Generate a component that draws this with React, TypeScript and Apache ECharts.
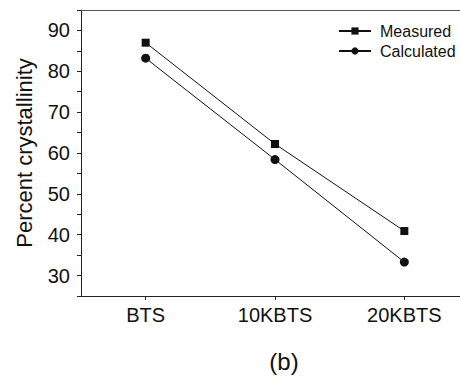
import React, { useEffect, useRef } from "react";
import * as echarts from "echarts";

const categories = ["BTS", "10KBTS", "20KBTS"];
const measured = [87.0, 62.2, 40.9];
const calculated = [83.2, 58.4, 33.3];
const seriesNames = ["Measured", "Calculated"];
const yTitle = "Percent crystallinity";
const caption = "(b)";

const FONT = "'Liberation Sans', Arial, sans-serif";

export default function App() {
  const ref = useRef<HTMLDivElement>(null);
  useEffect(() => {
    if (!ref.current) return;
    const chart = echarts.init(ref.current, undefined, { renderer: "svg" });
    chart.setOption({
      animation: false,
      backgroundColor: "#ffffff",
      textStyle: { fontFamily: FONT },
      grid: { left: 81, right: 1, top: 10, bottom: 84, containLabel: false },
      legend: {
        left: 333,
        top: 18,
        orient: "vertical",
        itemWidth: 32,
        itemHeight: 9,
        itemGap: 4,
        textStyle: { fontSize: 16, color: "#111", fontFamily: FONT, padding: [0, 0, 0, 4] },
        data: seriesNames,
      },
      xAxis: [
        {
          type: "category",
          data: categories,
          boundaryGap: true,
          axisLine: { show: true, lineStyle: { color: "#222", width: 1 } },
          axisTick: { show: true, alignWithLabel: true, length: 4, lineStyle: { color: "#222" } },
          axisLabel: { fontSize: 20, color: "#111", margin: 9, fontFamily: FONT },
          splitLine: { show: false },
        },
        {
          type: "category",
          data: categories,
          position: "top",
          axisLine: { show: true, lineStyle: { color: "#555", width: 1 } },
          axisTick: { show: false },
          axisLabel: { show: false },
          splitLine: { show: false },
        },
      ],
      yAxis: {
        type: "value",
        min: 25,
        max: 95,
        interval: 5,
        name: yTitle,
        nameLocation: "middle",
        nameGap: 46,
        nameTextStyle: { fontSize: 22, color: "#111", fontFamily: FONT },
        axisLine: { show: true, lineStyle: { color: "#222", width: 1 } },
        axisTick: { show: true, length: 4, lineStyle: { color: "#222" } },
        axisLabel: {
          fontSize: 20,
          color: "#111",
          margin: 11,
          fontFamily: FONT,
          formatter: (v: number) => (v % 10 === 0 ? String(v) : ""),
        },
        splitLine: { show: false },
      },
      graphic: [
        {
          type: "text",
          x: 284,
          y: 361,
          style: {
            text: caption,
            fontSize: 24,
            fill: "#111",
            fontFamily: FONT,
            textAlign: "center",
            textVerticalAlign: "middle",
            verticalAlign: "middle",
          },
        },
      ],
      series: [
        {
          name: seriesNames[0],
          type: "line",
          data: measured,
          symbol: "rect",
          symbolSize: 8,
          itemStyle: { color: "#111" },
          lineStyle: { color: "#111", width: 1 },
        },
        {
          name: seriesNames[1],
          type: "line",
          data: calculated,
          symbol: "circle",
          symbolSize: 9,
          itemStyle: { color: "#111" },
          lineStyle: { color: "#111", width: 1 },
        },
      ],
    });
    return () => chart.dispose();
  }, []);
  return (
    <div
      ref={ref}
      style={{ position: "fixed", left: 0, top: 0, width: 470, height: 380 }}
    />
  );
}
